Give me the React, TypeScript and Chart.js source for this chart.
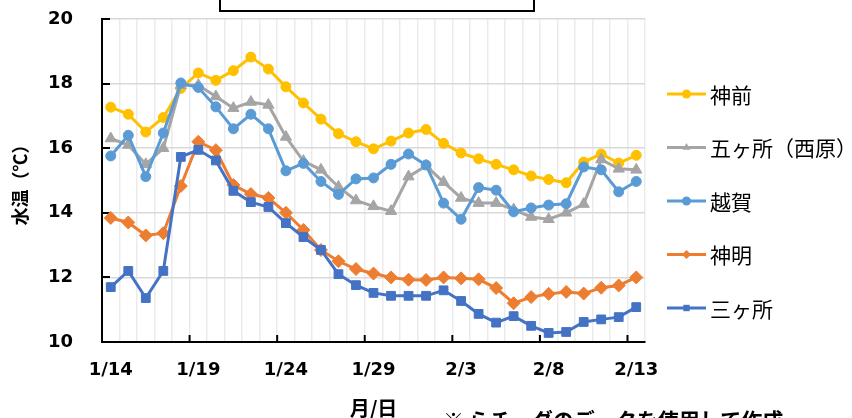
import React, { useEffect, useRef } from 'react';
import { Chart, registerables } from 'chart.js';

Chart.register(...registerables);

const labels = [
  '1/14', '1/15', '1/16', '1/17', '1/18', '1/19', '1/20', '1/21', '1/22', '1/23',
  '1/24', '1/25', '1/26', '1/27', '1/28', '1/29', '1/30', '1/31', '2/1', '2/2',
  '2/3', '2/4', '2/5', '2/6', '2/7', '2/8', '2/9', '2/10', '2/11', '2/12', '2/13',
];

const jinzen = [17.27, 17.05, 16.5, 16.95, 17.85, 18.33, 18.1, 18.4, 18.82, 18.45, 17.9, 17.4, 16.9, 16.45, 16.2, 15.98, 16.22, 16.47, 16.58, 16.15, 15.85, 15.67, 15.5, 15.33, 15.14, 15.03, 14.93, 15.57, 15.82, 15.54, 15.78];
const gokashoNishihara = [16.3, 16.1, 15.5, 16.0, 17.95, 17.95, 17.6, 17.24, 17.43, 17.34, 16.35, 15.6, 15.33, 14.8, 14.38, 14.2, 14.05, 15.12, 15.45, 14.95, 14.46, 14.3, 14.3, 14.1, 13.87, 13.8, 14.0, 14.27, 15.65, 15.36, 15.33];
const koshiga = [15.76, 16.4, 15.12, 16.47, 18.02, 17.88, 17.28, 16.6, 17.05, 16.6, 15.3, 15.53, 14.97, 14.57, 15.05, 15.08, 15.5, 15.82, 15.48, 14.3, 13.8, 14.78, 14.7, 14.03, 14.15, 14.24, 14.28, 15.42, 15.33, 14.65, 14.97];
const shinmei = [13.84, 13.7, 13.3, 13.37, 14.83, 16.2, 15.94, 14.86, 14.58, 14.46, 14.0, 13.47, 12.85, 12.5, 12.26, 12.12, 12.0, 11.93, 11.92, 12.0, 11.97, 11.94, 11.67, 11.2, 11.39, 11.49, 11.55, 11.5, 11.68, 11.75, 12.0];
const sangasho = [11.7, 12.2, 11.36, 12.2, 15.73, 15.95, 15.62, 14.68, 14.33, 14.18, 13.68, 13.25, 12.85, 12.1, 11.76, 11.52, 11.43, 11.43, 11.43, 11.6, 11.27, 10.87, 10.6, 10.8, 10.5, 10.28, 10.31, 10.62, 10.7, 10.77, 11.08];

const seriesNames = ['神前', '五ヶ所（西原）', '越賀', '神明', '三ヶ所'];
const seriesValues = [jinzen, gokashoNishihara, koshiga, shinmei, sangasho];
const seriesColors = ['#FFC000', '#A5A5A5', '#5B9BD5', '#ED7D31', '#4472C4'];
const seriesMarkers = ['circle', 'triangle', 'circle', 'rectRot', 'rect'];
const markerRadius = [5, 6.5, 5, 6.5, 6.2];

const yMin = 10;
const yMax = 20;
const yStep = 2;
const xLabelEvery = 5;

const yTitle = '水温（℃）';
const xTitle = '月/日';
const noteText = '※ らチーダのデータを使用して作成';

function drawMarker(ctx: CanvasRenderingContext2D, style: string, x: number, y: number, r: number) {
  ctx.beginPath();
  if (style === 'circle') {
    ctx.arc(x, y, r, 0, Math.PI * 2);
  } else if (style === 'triangle') {
    ctx.moveTo(x, y - r);
    ctx.lineTo(x + r * 0.866, y + r * 0.5);
    ctx.lineTo(x - r * 0.866, y + r * 0.5);
    ctx.closePath();
  } else if (style === 'rectRot') {
    ctx.moveTo(x, y - r);
    ctx.lineTo(x + r, y);
    ctx.lineTo(x, y + r);
    ctx.lineTo(x - r, y);
    ctx.closePath();
  } else {
    const s = r * Math.SQRT1_2;
    ctx.rect(x - s, y - s, 2 * s, 2 * s);
  }
  ctx.fill();
}

const decorPlugin = {
  id: 'decor',
  beforeDatasetsDraw(chart: any) {
    const { ctx, chartArea, scales } = chart;
    const x = scales.x;
    const y = scales.y;
    ctx.save();
    ctx.strokeStyle = '#000';
    ctx.lineWidth = 2;
    ctx.beginPath();
    for (let v = yMin; v <= yMax; v += yStep) {
      const py = Math.round(y.getPixelForValue(v));
      ctx.moveTo(chartArea.left, py);
      ctx.lineTo(chartArea.left + 8, py);
    }
    for (let i = xLabelEvery; i < labels.length; i += xLabelEvery) {
      const px = (x.getPixelForValue(i - 1) + x.getPixelForValue(i)) / 2;
      ctx.moveTo(px, chartArea.bottom);
      ctx.lineTo(px, chartArea.bottom - 7);
    }
    ctx.stroke();
    ctx.restore();
  },
  afterDraw(chart: any) {
    const { ctx } = chart;
    const startY = 94;
    const stepY = 53.5;
    const lineX0 = 667;
    const lineX1 = 706;
    ctx.save();
    chart.data.datasets.forEach((ds: any, i: number) => {
      const cy = startY + i * stepY;
      ctx.strokeStyle = ds.borderColor;
      ctx.fillStyle = ds.borderColor;
      ctx.lineWidth = 3;
      ctx.beginPath();
      ctx.moveTo(lineX0, cy);
      ctx.lineTo(lineX1, cy);
      ctx.stroke();
      drawMarker(ctx, seriesMarkers[i], (lineX0 + lineX1) / 2, cy, 4.5);
      ctx.fillStyle = '#000';
      ctx.font = '21px "Noto Sans CJK JP"';
      ctx.textBaseline = 'middle';
      ctx.textAlign = 'left';
      ctx.fillText(ds.label, 710, cy + 1);
    });
    ctx.restore();
  },
};

export default function App() {
  const canvasRef = useRef<HTMLCanvasElement | null>(null);

  useEffect(() => {
    const canvas = canvasRef.current;
    if (!canvas) return;
    const tickFont = { family: '"DejaVu Sans"', size: 18, weight: 'bold' as const };
    const desiredTop = 19;
    const desiredBottom = 342;
    const fit = { xHeight: 76, yWidth: 102 };
    const pad = { left: 0, right: 207, top: 19, bottom: 0 };
    const chart = new Chart(canvas, {
      type: 'line',
      data: {
        labels,
        datasets: seriesNames.map((name, i) => ({
          label: name,
          data: seriesValues[i],
          borderColor: seriesColors[i],
          backgroundColor: seriesColors[i],
          pointBackgroundColor: seriesColors[i],
          pointBorderColor: seriesColors[i],
          pointStyle: seriesMarkers[i] as any,
          pointRadius: markerRadius[i],
          pointBorderWidth: 1,
          borderWidth: 3,
          tension: 0,
          fill: false,
          order: seriesNames.length - 1 - i,
        })),
      },
      options: {
        animation: false,
        responsive: false,
        maintainAspectRatio: false,
        layout: { padding: { ...pad }, autoPadding: false },
        plugins: {
          legend: { display: false },
          tooltip: { enabled: false },
        },
        scales: {
          x: {
            type: 'category',
            offset: true,
            grid: { offset: true, color: '#ebebeb', lineWidth: 1.5, drawTicks: false },
            border: { display: true, color: '#000', width: 2 },
            ticks: {
              autoSkip: false,
              maxRotation: 0,
              minRotation: 0,
              padding: 18,
              color: '#000',
              font: tickFont,
              callback: (_v: any, i: number) => (i % xLabelEvery === 0 ? labels[i] : ''),
            },
            title: {
              display: true,
              text: xTitle,
              color: '#000',
              font: { family: '"Noto Sans CJK JP"', size: 20, weight: 'bold', lineHeight: 1 },
              padding: { top: 0, bottom: 0 },
            },
            afterFit: (s: any) => {
              s.height = fit.xHeight;
              s.paddingLeft = 0;
              s.paddingRight = 0;
            },
          },
          y: {
            min: yMin,
            max: yMax,
            grid: { color: '#d9d9d9', lineWidth: 1.5, drawTicks: false },
            border: { display: true, color: '#000', width: 2 },
            ticks: {
              stepSize: yStep,
              padding: 29,
              color: '#000',
              font: tickFont,
            },
            title: {
              display: true,
              text: yTitle,
              color: '#000',
              font: { family: '"Noto Sans CJK JP"', size: 18, weight: 'bold' },
              padding: { top: 9, bottom: 0 },
            },
            afterFit: (s: any) => {
              s.width = fit.yWidth;
              s.paddingTop = 0;
              s.paddingBottom = 0;
            },
          },
        },
      },
      plugins: [decorPlugin],
    });
    for (let k = 0; k < 3; k++) {
      const ca = chart.chartArea;
      const dTop = desiredTop - ca.top;
      const dBottom = ca.bottom - desiredBottom;
      if (Math.abs(dTop) < 0.5 && Math.abs(dBottom) < 0.5) break;
      pad.top += dTop;
      fit.xHeight += dBottom;
      (chart.options as any).layout.padding = { ...pad };
      chart.update();
    }
    return () => chart.destroy();
  }, []);

  return (
    <div
      style={{
        position: 'fixed',
        left: 0,
        top: 0,
        width: 852,
        height: 418,
        background: '#fff',
        overflow: 'hidden',
      }}
    >
      <canvas ref={canvasRef} width={852} height={418} style={{ display: 'block', width: 852, height: 418 }} />
      <div
        style={{
          position: 'absolute',
          left: 219,
          top: -40,
          width: 316,
          height: 52,
          boxSizing: 'border-box',
          border: '2px solid #000',
          background: '#fff',
        }}
      />
      <div
        style={{
          position: 'absolute',
          left: 443,
          top: 409,
          whiteSpace: 'nowrap',
          fontFamily: '"Noto Sans CJK JP"',
          fontWeight: 'bold',
          fontSize: 21,
          lineHeight: 1,
          color: '#000',
        }}
      >
        {noteText}
      </div>
    </div>
  );
}
